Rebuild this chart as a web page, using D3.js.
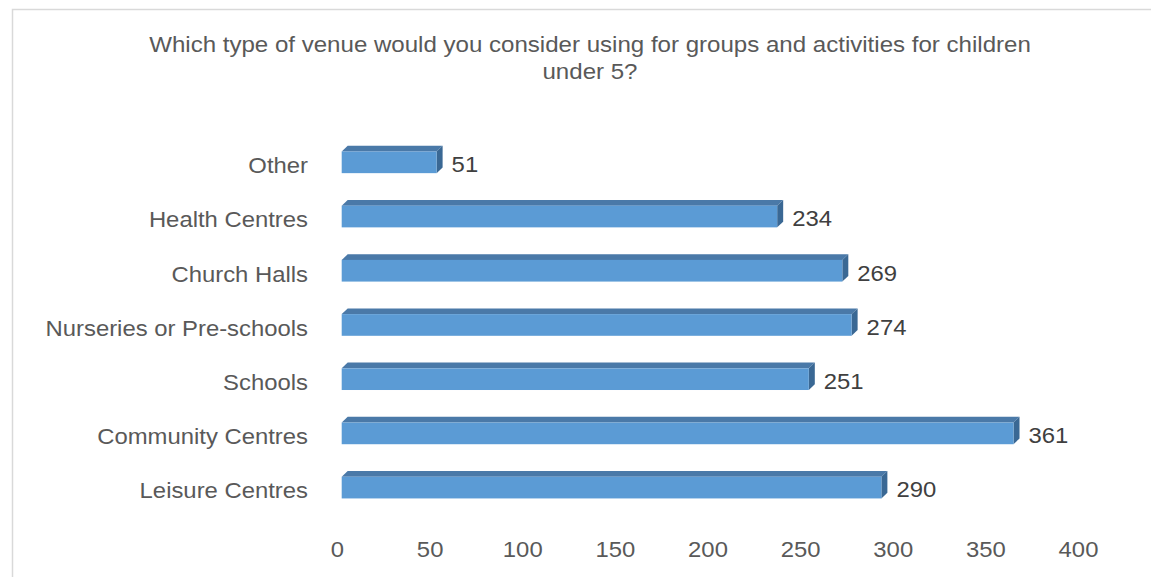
<!DOCTYPE html>
<html>
<head>
<meta charset="utf-8">
<script src="https://cdn.jsdelivr.net/npm/d3@7"></script>
<style>
  body { margin: 0; background: #fff; }
  text { font-family: "Liberation Sans", Arial, sans-serif; }
</style>
</head>
<body>
<svg id="chart" width="1151" height="577"></svg>
<script>
// data, top bar first
const categories = ["Other", "Health Centres", "Church Halls", "Nurseries or Pre-schools", "Schools", "Community Centres", "Leisure Centres"];
const values = [51, 234, 269, 274, 251, 361, 290];
const tickValues = [0, 50, 100, 150, 200, 250, 300, 350, 400];
const titleLines = ["Which type of venue would you consider using for groups and activities for children", "under 5?"];

const svg = d3.select("#chart");
const stretch = 1.11; // the picture is a little wider than tall

// frame
svg.append("path")
  .attr("d", "M12.5,577 L12.5,9.5 L1151,9.5")
  .attr("fill", "none")
  .attr("stroke", "#d9d9d9")
  .attr("stroke-width", 1.5);

// title
svg.append("g").selectAll("text")
  .data(titleLines)
  .join("text")
  .attr("transform", (d, i) => `translate(590,${51.5 + i * 27}) scale(${stretch},1)`)
  .attr("text-anchor", "middle")
  .attr("font-size", "21.7px")
  .attr("fill", "#595959")
  .text(d => d);

const x = d3.scaleLinear().domain([0, 400]).range([341.7, 1086.1]);
// axis labels sit a bit left because of the 3d floor
const xLabel = d3.scaleLinear().domain([0, 400]).range([337, 1078]);

const y = d3.scaleBand()
  .domain(categories)
  .range([135.2, 514.7])
  .paddingInner(0.6)
  .paddingOuter(0.3);

const depthX = 6, depthY = 5.7;
const data = categories.map((c, i) => ({ cat: c, v: values[i] }));

const bars = svg.append("g").selectAll("g.bar")
  .data(data)
  .join("g")
  .attr("class", "bar");

// top face
bars.append("path")
  .attr("d", d => {
    const x0 = x(0), x1 = x(d.v), y0 = y(d.cat);
    return `M${x0},${y0} L${x0 + depthX},${y0 - depthY} L${x1 + depthX},${y0 - depthY} L${x1},${y0} Z`;
  })
  .attr("fill", "#4a79a8");

// side face
bars.append("path")
  .attr("d", d => {
    const x1 = x(d.v), y0 = y(d.cat), h = y.bandwidth();
    return `M${x1},${y0} L${x1 + depthX},${y0 - depthY} L${x1 + depthX},${y0 + h - depthY} L${x1},${y0 + h} Z`;
  })
  .attr("fill", "#3a6894");

// front face
bars.append("rect")
  .attr("x", x(0))
  .attr("y", d => y(d.cat))
  .attr("width", d => x(d.v) - x(0))
  .attr("height", y.bandwidth())
  .attr("fill", "#5b9bd5");

// value labels
bars.append("text")
  .attr("transform", d => `translate(${x(d.v) + 15},${y(d.cat) + y.bandwidth() - 1}) scale(${stretch},1)`)
  .attr("font-size", "21.5px")
  .attr("fill", "#404040")
  .text(d => d.v);

// category labels
svg.append("g").selectAll("text")
  .data(categories)
  .join("text")
  .attr("transform", d => `translate(308,${y(d) + y.bandwidth()}) scale(${stretch},1)`)
  .attr("text-anchor", "end")
  .attr("font-size", "21.5px")
  .attr("fill", "#595959")
  .text(d => d);

// x axis, labels only
const axis = svg.append("g")
  .attr("transform", "translate(0,534)")
  .call(d3.axisBottom(xLabel).tickValues(tickValues).tickSize(0).tickPadding(0));
axis.select(".domain").remove();
axis.selectAll("text")
  .attr("font-size", "21.5px")
  .attr("fill", "#595959")
  .attr("font-family", "Liberation Sans, Arial, sans-serif")
  .attr("dy", "0")
  .attr("y", 0)
  .attr("transform", `translate(0,23) scale(${stretch},1)`);
</script>
</body>
</html>
